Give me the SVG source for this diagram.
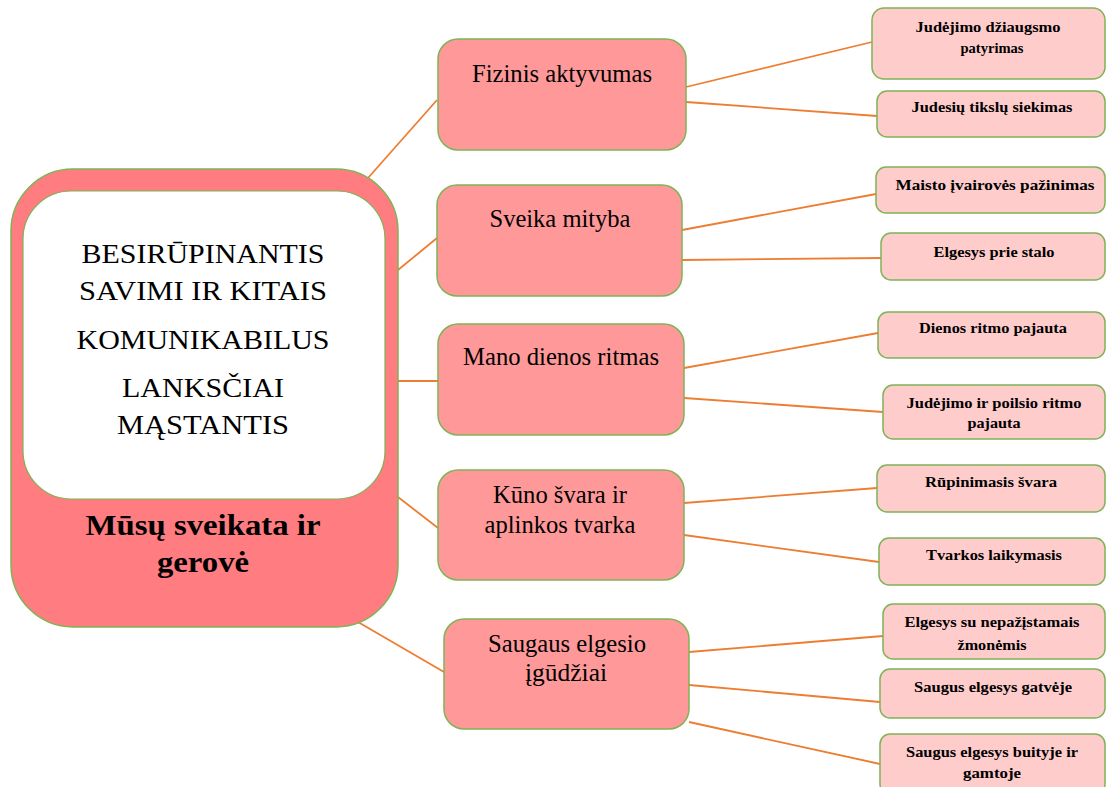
<svg xmlns="http://www.w3.org/2000/svg" width="1107" height="787" viewBox="0 0 1107 787">
<style>
.main{fill:#FF7C80;stroke:#7FB356;stroke-width:1.5}
.inner{fill:#FFFFFF;stroke:#7FB356;stroke-width:1.2}
.mid{fill:#FF9999;stroke:#7FB356;stroke-width:1.5}
.leaf{fill:#FFCCCC;stroke:#7FB356;stroke-width:1.5}
.con line{stroke:#ED7D31;stroke-width:1.8}
.t-in{font-size:28px}
.t-main{font-size:29px;font-weight:bold}
.t-mid{font-size:24.5px}
.t-leaf{font-size:14.5px;font-weight:bold}
</style>
<g id="connectors" class="con">
<line x1="368" y1="178" x2="437" y2="100"/>
<line x1="398" y1="270" x2="437" y2="238"/>
<line x1="398" y1="381" x2="438" y2="381"/>
<line x1="398" y1="497" x2="438" y2="528"/>
<line x1="358" y1="622" x2="444" y2="672"/>
<line x1="686" y1="87" x2="872" y2="42"/>
<line x1="686" y1="102" x2="877" y2="116"/>
<line x1="682" y1="230" x2="876" y2="194"/>
<line x1="682" y1="260" x2="881" y2="258"/>
<line x1="684" y1="368" x2="878" y2="333"/>
<line x1="684" y1="398" x2="883" y2="412"/>
<line x1="684" y1="503" x2="877" y2="488"/>
<line x1="684" y1="535" x2="879" y2="562"/>
<line x1="689" y1="652" x2="883" y2="636"/>
<line x1="689" y1="685" x2="880" y2="702"/>
<line x1="689" y1="722" x2="880" y2="764"/>
</g>
<g font-family="Liberation Serif, Times New Roman, serif" text-anchor="middle" fill="#000000" lengthAdjust="spacingAndGlyphs">
<g id="main">
<rect class="main" x="11" y="169" width="387" height="458" rx="62" ry="62"/>
<rect class="inner" x="23" y="191" width="362" height="308" rx="48" ry="48"/>
<text class="t-in" x="203" y="263" textLength="243" lengthAdjust="spacingAndGlyphs">BESIRŪPINANTIS</text>
<text class="t-in" x="203" y="300" textLength="248" lengthAdjust="spacingAndGlyphs">SAVIMI IR KITAIS</text>
<text class="t-in" x="203" y="349" textLength="253" lengthAdjust="spacingAndGlyphs">KOMUNIKABILUS</text>
<text class="t-in" x="203" y="397" textLength="162" lengthAdjust="spacingAndGlyphs">LANKSČIAI</text>
<text class="t-in" x="203" y="434" textLength="172" lengthAdjust="spacingAndGlyphs">MĄSTANTIS</text>
<text class="t-main" x="203" y="535" textLength="235" lengthAdjust="spacingAndGlyphs">Mūsų sveikata ir</text>
<text class="t-main" x="203" y="572" textLength="92" lengthAdjust="spacingAndGlyphs">gerovė</text>
</g>
<g id="n-fizinis">
<rect class="mid" x="438" y="39" width="248" height="111" rx="20" ry="20"/>
<text class="t-mid" x="562" y="82" textLength="180" lengthAdjust="spacingAndGlyphs">Fizinis aktyvumas</text>
</g>
<g id="n-mityba">
<rect class="mid" x="437" y="185" width="245" height="111" rx="20" ry="20"/>
<text class="t-mid" x="560" y="227" textLength="141" lengthAdjust="spacingAndGlyphs">Sveika mityba</text>
</g>
<g id="n-ritmas">
<rect class="mid" x="438" y="324" width="246" height="111" rx="20" ry="20"/>
<text class="t-mid" x="561" y="365" textLength="196" lengthAdjust="spacingAndGlyphs">Mano dienos ritmas</text>
</g>
<g id="n-svara">
<rect class="mid" x="438" y="470" width="246" height="110" rx="20" ry="20"/>
<text class="t-mid" x="560" y="503" textLength="134" lengthAdjust="spacingAndGlyphs">Kūno švara ir</text>
<text class="t-mid" x="560" y="533" textLength="151" lengthAdjust="spacingAndGlyphs">aplinkos tvarka</text>
</g>
<g id="n-saugaus">
<rect class="mid" x="444" y="619" width="245" height="110" rx="20" ry="20"/>
<text class="t-mid" x="567" y="652" textLength="158" lengthAdjust="spacingAndGlyphs">Saugaus elgesio</text>
<text class="t-mid" x="566" y="681" textLength="82" lengthAdjust="spacingAndGlyphs">įgūdžiai</text>
</g>
<g id="l1">
<rect class="leaf" x="872" y="8" width="233" height="71" rx="12" ry="12"/>
<text class="t-leaf" x="988" y="32" textLength="145" lengthAdjust="spacingAndGlyphs">Judėjimo džiaugsmo</text>
<text class="t-leaf" x="992" y="53" textLength="63" lengthAdjust="spacingAndGlyphs">patyrimas</text>
</g>
<g id="l2">
<rect class="leaf" x="877" y="91" width="228" height="46" rx="10" ry="10"/>
<text class="t-leaf" x="992" y="112" textLength="161" lengthAdjust="spacingAndGlyphs">Judesių tikslų siekimas</text>
</g>
<g id="l3">
<rect class="leaf" x="876" y="167" width="229" height="46" rx="10" ry="10"/>
<text class="t-leaf" x="995" y="190" textLength="199" lengthAdjust="spacingAndGlyphs">Maisto įvairovės pažinimas</text>
</g>
<g id="l4">
<rect class="leaf" x="881" y="233" width="224" height="47" rx="10" ry="10"/>
<text class="t-leaf" x="994" y="257" textLength="121" lengthAdjust="spacingAndGlyphs">Elgesys prie stalo</text>
</g>
<g id="l5">
<rect class="leaf" x="878" y="312" width="227" height="46" rx="10" ry="10"/>
<text class="t-leaf" x="993" y="333" textLength="148" lengthAdjust="spacingAndGlyphs">Dienos ritmo pajauta</text>
</g>
<g id="l6">
<rect class="leaf" x="883" y="385" width="222" height="54" rx="10" ry="10"/>
<text class="t-leaf" x="994" y="408" textLength="175" lengthAdjust="spacingAndGlyphs">Judėjimo ir poilsio ritmo</text>
<text class="t-leaf" x="994" y="428" textLength="53" lengthAdjust="spacingAndGlyphs">pajauta</text>
</g>
<g id="l7">
<rect class="leaf" x="877" y="465" width="228" height="47" rx="10" ry="10"/>
<text class="t-leaf" x="991" y="487" textLength="132" lengthAdjust="spacingAndGlyphs">Rūpinimasis švara</text>
</g>
<g id="l8">
<rect class="leaf" x="879" y="538" width="226" height="47" rx="10" ry="10"/>
<text class="t-leaf" x="994" y="560" textLength="136" lengthAdjust="spacingAndGlyphs">Tvarkos laikymasis</text>
</g>
<g id="l9">
<rect class="leaf" x="883" y="604" width="222" height="55" rx="10" ry="10"/>
<text class="t-leaf" x="992" y="627" textLength="175" lengthAdjust="spacingAndGlyphs">Elgesys su nepažįstamais</text>
<text class="t-leaf" x="992" y="650" textLength="69" lengthAdjust="spacingAndGlyphs">žmonėmis</text>
</g>
<g id="l10">
<rect class="leaf" x="880" y="669" width="225" height="49" rx="10" ry="10"/>
<text class="t-leaf" x="993" y="692" textLength="158" lengthAdjust="spacingAndGlyphs">Saugus elgesys gatvėje</text>
</g>
<g id="l11">
<rect class="leaf" x="880" y="734" width="225" height="60" rx="10" ry="10"/>
<text class="t-leaf" x="992" y="757" textLength="172" lengthAdjust="spacingAndGlyphs">Saugus elgesys buityje ir</text>
<text class="t-leaf" x="992" y="778" textLength="58" lengthAdjust="spacingAndGlyphs">gamtoje</text>
</g>
</g>
</svg>
